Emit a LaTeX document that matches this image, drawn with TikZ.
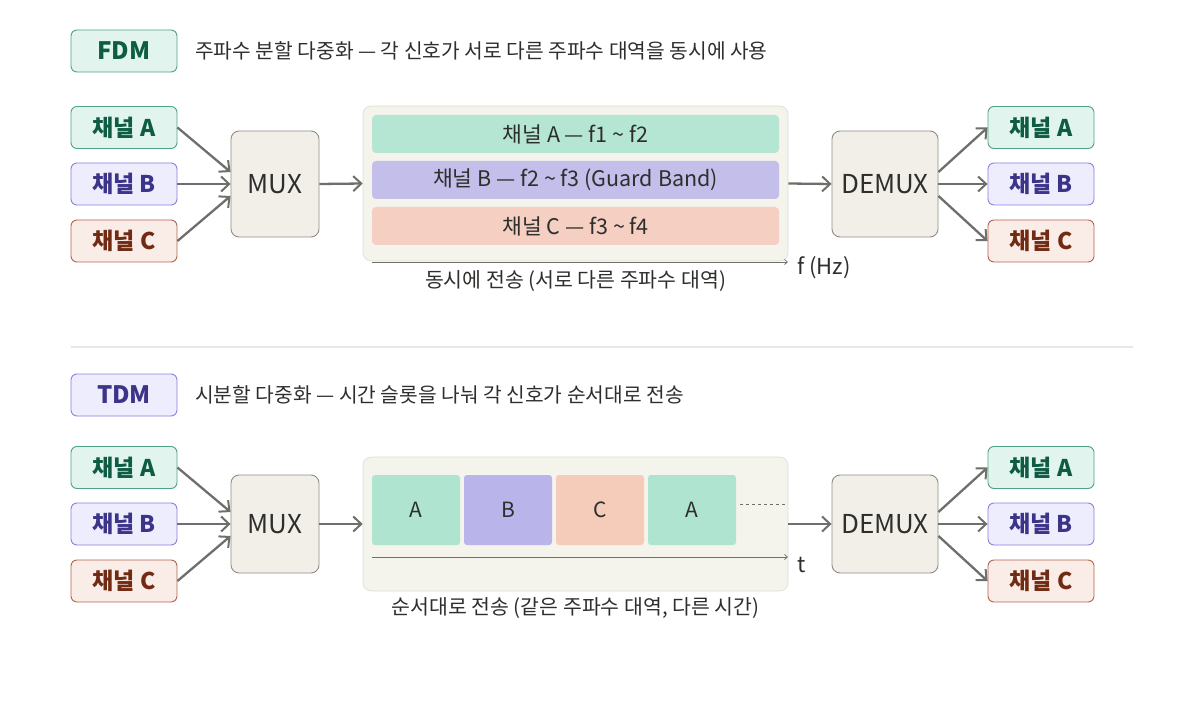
\documentclass[tikz,border=0pt]{standalone}
\usepackage{fontspec}
\setmainfont{Noto Sans CJK KR}
\usetikzlibrary{arrows.meta}
\definecolor{gfill}{HTML}{E1F5EE}\definecolor{gdraw}{HTML}{4FA283}\definecolor{gtext}{HTML}{0F5C45}
\definecolor{bfill}{HTML}{EEEDFE}\definecolor{bdraw}{HTML}{8A80E0}\definecolor{btext}{HTML}{3C3489}
\definecolor{rfill}{HTML}{FAECE7}\definecolor{rdraw}{HTML}{B5634A}\definecolor{rtext}{HTML}{712B13}
\definecolor{muxfill}{HTML}{F1EFE8}\definecolor{muxdraw}{HTML}{8E8D86}
\definecolor{panfill}{HTML}{F4F3EC}\definecolor{pandraw}{HTML}{DEDCD3}
\definecolor{bandA}{HTML}{B5E6D3}\definecolor{bandB}{HTML}{C4BEEB}\definecolor{bandC}{HTML}{F5D0C2}
\definecolor{slotA}{HTML}{AEE4D0}\definecolor{slotB}{HTML}{B9B4EA}\definecolor{slotC}{HTML}{F5CBBA}
\definecolor{ink}{HTML}{2E2E2C}\definecolor{arrc}{HTML}{6E6E6A}\definecolor{sep}{HTML}{E8E8E6}
\tikzset{
  chbox/.style={rounded corners=6pt, line width=0.9pt, minimum width=106pt, minimum height=42pt, inner sep=0pt, font=\bfseries\fontsize{23}{26}\selectfont},
  chgreen/.style={chbox, draw=gdraw, fill=gfill, text=gtext},
  chblue/.style={chbox, draw=bdraw, fill=bfill, text=btext},
  chred/.style={chbox, draw=rdraw, fill=rfill, text=rtext},
  muxbox/.style={rounded corners=8pt, line width=0.9pt, draw=muxdraw, fill=muxfill, text=ink, minimum height=106pt, inner sep=0pt, font=\fontsize{26}{30}\selectfont},
  panel/.style={rounded corners=8pt, line width=0.6pt, draw=pandraw, fill=panfill, minimum width=425pt, inner sep=0pt},
  band/.style={rounded corners=4pt, minimum width=407pt, minimum height=38pt, inner sep=0pt, text=ink, font=\fontsize{21.5}{24}\selectfont},
  slot/.style={rounded corners=3pt, minimum width=88pt, minimum height=70pt, inner sep=0pt, text=ink, font=\fontsize{21}{24}\selectfont},
  arr/.style={draw=arrc, line width=2.3pt, -{Straight Barb[length=8pt,width=15pt,line width=2pt]}},
  axis/.style={draw=arrc, line width=0.8pt, -{Straight Barb[length=3pt,width=5pt,line width=0.7pt]}},
  lbl/.style={text=ink, inner sep=0pt, font=\fontsize{20.5}{24}\selectfont},
  title/.style={text=ink, inner sep=0pt, anchor=west, font=\fontsize{20.3}{24}\selectfont},
}
\begin{document}
\begin{tikzpicture}[x=1pt,y=-1pt]
\useasboundingbox (0,0) rectangle (1204,708);
% ---------- FDM ----------
\node[chgreen, font=\bfseries\fontsize{24}{28}\selectfont] (fdm) at (124,51) {FDM};
\node[title] (fdmt) at (195,51) {주파수 분할 다중화 — 각 신호가 서로 다른 주파수 대역을 동시에 사용};
\node[chgreen] (a1) at (124,127.5) {채널 A};
\node[chblue]  (b1) at (124,184) {채널 B};
\node[chred]   (c1) at (124,241) {채널 C};
\node[muxbox, minimum width=88pt] (mux1) at (275,184) {MUX};
\node[panel, minimum height=155pt] (pan1) at (575.5,183.5) {};
\node[band, fill=bandA] (ba) at (575.5,134) {채널 A — f1 \char"007E{} f2};
\node[band, fill=bandB] (bb) at (575.5,180) {채널 B — f2 \char"007E{} f3 (Guard Band)};
\node[band, fill=bandC] (bc) at (575.5,226) {채널 C — f3 \char"007E{} f4};
\coordinate (ax1s) at (372,262);
\coordinate (ax1e) at (788,262);
\draw[axis] (ax1s) -- (ax1e);
\node[lbl, anchor=west, font=\fontsize{22}{26}\selectfont] (f1l) at (797,268) {f (Hz)};
\node[lbl] (cap1) at (575.5,281) {동시에 전송 (서로 다른 주파수 대역)};
\node[muxbox, minimum width=106pt] (dem1) at (885,184) {DEMUX};
\node[chgreen] (a1r) at (1041,127.5) {채널 A};
\node[chblue]  (b1r) at (1041,184) {채널 B};
\node[chred]   (c1r) at (1041,241) {채널 C};
\draw[arr] (a1.east) -- ([yshift=12pt]mux1.west);
\draw[arr] (b1.east) -- (mux1.west);
\draw[arr] (c1.east) -- ([yshift=-12pt]mux1.west);
\draw[arr] (mux1.east) -- (pan1.west);
\draw[arr] (pan1.east) -- (dem1.west);
\draw[arr] ([yshift=12pt]dem1.east) -- (a1r.west);
\draw[arr] (dem1.east) -- (b1r.west);
\draw[arr] ([yshift=-12pt]dem1.east) -- (c1r.west);
% separator
\coordinate (s1) at (71,347);
\coordinate (s2) at (1133,347);
\draw[sep, line width=1pt] (s1) -- (s2);
% ---------- TDM ----------
\node[chblue, font=\bfseries\fontsize{24}{28}\selectfont] (tdm) at (124,395) {TDM};
\node[title] (tdmt) at (195,395) {시분할 다중화 — 시간 슬롯을 나눠 각 신호가 순서대로 전송};
\node[chgreen] (a2) at (124,467.5) {채널 A};
\node[chblue]  (b2) at (124,524) {채널 B};
\node[chred]   (c2) at (124,581) {채널 C};
\node[muxbox, minimum width=88pt, minimum height=98pt] (mux2) at (275,524) {MUX};
\node[panel, minimum height=134pt] (pan2) at (575.5,524) {};
\node[slot, fill=slotA] (s2a) at (416,510) {A};
\node[slot, fill=slotB] (s2b) at (508,510) {B};
\node[slot, fill=slotC] (s2c) at (600,510) {C};
\node[slot, fill=slotA] (s2d) at (692,510) {A};
\coordinate (dsh) at (788,504);
\draw[arrc, line width=0.6pt, dash pattern=on 3pt off 3pt] ([xshift=4pt,yshift=6pt]s2d.east) -- (dsh);
\coordinate (ax2s) at (372,557);
\coordinate (ax2e) at (788,557);
\draw[axis] (ax2s) -- (ax2e);
\node[lbl, anchor=west, font=\fontsize{22}{26}\selectfont] (tl) at (797,565) {t};
\node[lbl] (cap2) at (575.5,608) {순서대로 전송 (같은 주파수 대역, 다른 시간)};
\node[muxbox, minimum width=106pt, minimum height=98pt] (dem2) at (885,524) {DEMUX};
\node[chgreen] (a2r) at (1041,467.5) {채널 A};
\node[chblue]  (b2r) at (1041,524) {채널 B};
\node[chred]   (c2r) at (1041,581) {채널 C};
\draw[arr] (a2.east) -- ([yshift=12pt]mux2.west);
\draw[arr] (b2.east) -- (mux2.west);
\draw[arr] (c2.east) -- ([yshift=-12pt]mux2.west);
\draw[arr] (mux2.east) -- (pan2.west);
\draw[arr] (pan2.east) -- (dem2.west);
\draw[arr] ([yshift=12pt]dem2.east) -- (a2r.west);
\draw[arr] (dem2.east) -- (b2r.west);
\draw[arr] ([yshift=-12pt]dem2.east) -- (c2r.west);
\end{tikzpicture}
\end{document}
